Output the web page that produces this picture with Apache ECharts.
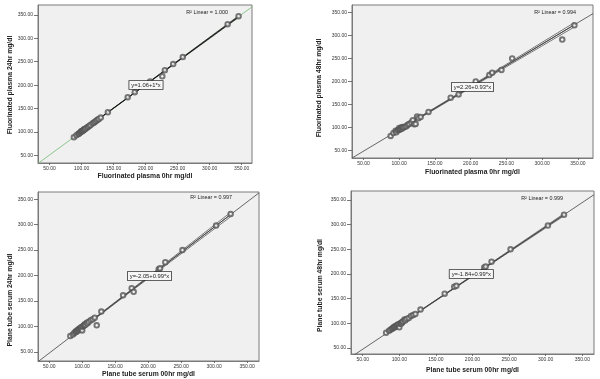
<!DOCTYPE html>
<html><head><meta charset="utf-8">
<script src="https://cdn.jsdelivr.net/npm/echarts@6/dist/echarts.min.js"></script>
<style>html,body{margin:0;padding:0;background:#fff}#c{width:600px;height:379px}</style>
</head><body><div id="c"></div>
<script>
// ---- data ----
const xFluor0  = [88, 92, 95, 96, 98, 99, 100, 101, 102, 103, 104, 105, 106, 108, 110, 112, 114, 117, 119, 121, 123, 125, 127, 130, 141, 172, 183, 207, 226, 230, 243, 258, 328, 345];
const yFluor24 = [89, 93, 96, 97, 99, 100, 102, 102, 103, 104, 106, 106, 107, 109, 111, 113, 115, 118, 120, 122, 124, 126, 128, 131, 142, 174, 185, 208, 219, 232, 245, 260, 330, 347];
const yFluor48 = [82, 88, 93, 90, 94, 95, 99, 96, 97, 100, 98, 101, 100, 102, 103, 106, 108, 111, 116, 107, 108, 124, 120, 123, 134, 165, 172, 200, 214, 219, 225, 250, 291, 322];
const xSerum0  = [82, 86, 88, 90, 91, 92, 93, 94, 95, 96, 97, 98, 99, 100, 101, 102, 103, 104, 105, 107, 108, 110, 113, 116, 119, 122, 129, 162, 175, 178, 216, 218, 226, 252, 303, 325];
const ySerum24 = [81, 84, 87, 90, 89, 91, 93, 92, 95, 94, 97, 96, 99, 92, 100, 101, 102, 104, 103, 107, 106, 109, 112, 114, 117, 102, 129, 161, 175, 168, 212, 214, 226, 250, 298, 321];
const ySerum48 = [81, 85, 87, 89, 90, 91, 93, 92, 94, 95, 96, 97, 98, 92, 99, 101, 100, 103, 104, 108, 106, 109, 111, 115, 117, 119, 128, 160, 174, 176, 213, 215, 225, 250, 298, 320];
const tickValues = [50, 100, 150, 200, 250, 300, 350];
const xTitles = ['Fluorinated plasma 0hr mg/dl', 'Fluorinated plasma 0hr mg/dl', 'Plane tube serum 00hr mg/dl', 'Plane tube serum 00hr mg/dl'];
const yTitles = ['Fluorinated plasma 24hr mg/dl', 'Fluorinated plasma 48hr mg/dl', 'Plane tube serum 24hr mg/dl', 'Plane tube serum 48hr mg/dl'];
const intercepts = [1.06, 2.26, -2.05, -1.84];
const slopes = [1, 0.93, 0.99, 0.99];
const eqLabels = ['y=1.06+1*x', 'y=2.26+0.93*x', 'y=-2.05+0.99*x', 'y=-1.84+0.99*x'];
const r2Values = ['1.000', '0.994', '0.997', '0.999'];
const panelX = [xFluor0, xFluor0, xSerum0, xSerum0];
const panelY = [yFluor24, yFluor48, ySerum24, ySerum48];

// ---- layout / style ----
const layout = [
  {left:38,  top:5,   width:214, height:158, xMin:32, xMax:366, yMin:34, yMax:371, xName:[145,176.5], yName:[10,85],     r2:[228,12.7],  eq:[146,85],    fitColor:'#80c080', bandColor:'#111'},
  {left:352, top:5,   width:241, height:153, xMin:34, xMax:371, yMin:34, yMax:366, xName:[472.5,172], yName:[319.5,88],  r2:[576,12.7],  eq:[472.5,87],  fitColor:'#555',    bandColor:'#444'},
  {left:38,  top:192, width:221, height:169, xMin:33, xMax:368, yMin:32, yMax:364, xName:[148.5,374], yName:[10,300],    r2:[232,198],   eq:[149.5,276], fitColor:'#555',    bandColor:'#444'},
  {left:351, top:191, width:243, height:163, xMin:34, xMax:366, yMin:38, yMax:368, xName:[472.5,370.5], yName:[320.5,285.5], r2:[563,198.3], eq:[471.3,274], fitColor:'#555', bandColor:'#444'}
];
const FONT = '"Liberation Sans", Arial, sans-serif';

function band(xs, ys, a, b, sign) {
  const n = xs.length;
  const mx = xs.reduce((s, v) => s + v, 0) / n;
  let sxx = 0, sse = 0;
  for (let i = 0; i < n; i++) {
    sxx += (xs[i] - mx) ** 2;
    const e = ys[i] - (a + b * xs[i]);
    sse += e * e;
  }
  const s = Math.sqrt(sse / (n - 2));
  const t = 2.03;
  const ux = [...new Set(xs)].sort((p, q) => p - q);
  return ux.map(x => [x, a + b * x + sign * t * s * Math.sqrt(1 / n + (x - mx) ** 2 / sxx)]);
}

const grids = [], xAxes = [], yAxes = [], series = [], graphics = [];
layout.forEach((L, i) => {
  const a = intercepts[i], b = slopes[i];
  const xs = panelX[i], ys = panelY[i];
  grids.push({left: L.left, top: L.top, width: L.width, height: L.height, show: true,
    backgroundColor: '#f0f0f0', borderColor: '#7a7a7a', borderWidth: 1});
  xAxes.push({type: 'value', gridIndex: i, min: L.xMin, max: L.xMax,
    splitLine: {show: false},
    axisLine: {show: true, onZero: false, lineStyle: {color: '#7a7a7a', width: 1}},
    axisTick: {show: true, customValues: tickValues, length: 2, lineStyle: {color: '#555', width: 0.8}},
    axisLabel: {customValues: tickValues, formatter: v => Number(v).toFixed(2), fontSize: 5, color: '#333', margin: 3, fontFamily: FONT}});
  yAxes.push({type: 'value', gridIndex: i, min: L.yMin, max: L.yMax,
    splitLine: {show: false},
    axisLine: {show: true, onZero: false, lineStyle: {color: '#7a7a7a', width: 1}},
    axisTick: {show: true, customValues: tickValues, length: 4, lineStyle: {color: '#555', width: 0.8}},
    axisLabel: {customValues: tickValues, formatter: v => Number(v).toFixed(2), fontSize: 5, color: '#333', margin: 5, fontFamily: FONT}});
  const dMin = Math.min(...xs), dMax = Math.max(...xs);
  series.push({type: 'line', xAxisIndex: i, yAxisIndex: i, showSymbol: false, silent: true, z: 2,
    data: [[L.xMin, a + b * L.xMin], [L.xMax, a + b * L.xMax]],
    lineStyle: {color: L.fitColor, width: 0.9}});
  series.push({type: 'line', xAxisIndex: i, yAxisIndex: i, showSymbol: false, silent: true, z: 3,
    data: [[dMin, a + b * dMin], [dMax, a + b * dMax]],
    lineStyle: {color: L.bandColor, width: 0.9}});
  [1, -1].forEach(sg => series.push({type: 'line', xAxisIndex: i, yAxisIndex: i, showSymbol: false, silent: true, z: 3,
    data: band(xs, ys, a, b, sg), lineStyle: {color: L.bandColor, width: 0.7}}));
  series.push({type: 'scatter', xAxisIndex: i, yAxisIndex: i, symbol: 'emptyCircle', symbolSize: 4.5, z: 4,
    data: xs.map((x, k) => [x, ys[k]]),
    itemStyle: {color: '#555', borderWidth: 0.55}});
  graphics.push({type: 'text', x: L.xName[0], y: L.xName[1], z: 100,
    style: {text: xTitles[i], font: 'bold 6.8px ' + FONT, fill: '#222', textAlign: 'center', textVerticalAlign: 'middle'}});
  graphics.push({type: 'text', x: L.yName[0], y: L.yName[1], rotation: Math.PI / 2, z: 100,
    style: {text: yTitles[i], font: 'bold 6.8px ' + FONT, fill: '#222', textAlign: 'center', textVerticalAlign: 'middle'}});
  graphics.push({type: 'text', x: L.r2[0], y: L.r2[1], z: 100,
    style: {text: 'R\u00b2 Linear = ' + r2Values[i], font: '5.4px ' + FONT, fill: '#222', textAlign: 'right', textVerticalAlign: 'middle'}});
  graphics.push({type: 'text', x: L.eq[0], y: L.eq[1], z: 100,
    style: {text: eqLabels[i], font: '5.8px ' + FONT, fill: '#222', textAlign: 'center', textVerticalAlign: 'middle',
      backgroundColor: '#f6f6f6', borderColor: '#333', borderWidth: 0.8, padding: [1, 2, 1, 2]}});
});

const chart = echarts.init(document.getElementById('c'), null, {renderer: 'canvas'});
chart.setOption({
  animation: false,
  backgroundColor: '#fff',
  grid: grids, xAxis: xAxes, yAxis: yAxes, series: series, graphic: graphics
});
</script></body></html>
